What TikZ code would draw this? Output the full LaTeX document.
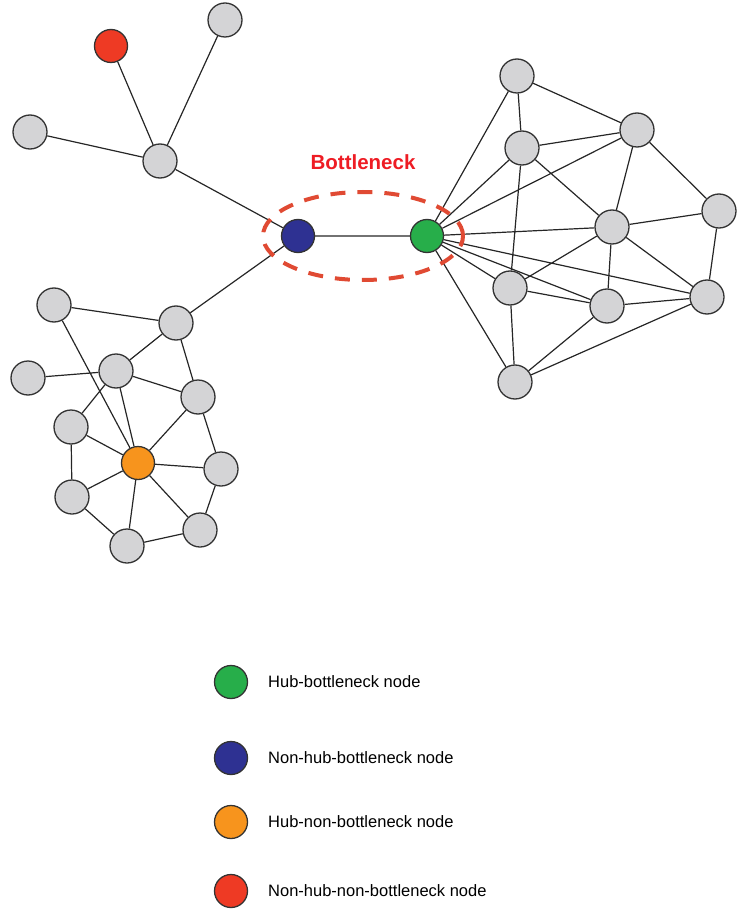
\documentclass[tikz,border=0pt]{standalone}
\usepackage{fontspec}
\setmainfont{Liberation Sans}
\usetikzlibrary{backgrounds,shapes.geometric}
\definecolor{ngray}{HTML}{D4D4D6}
\definecolor{nred}{HTML}{EE3A24}
\definecolor{nblue}{HTML}{2E3192}
\definecolor{ngreen}{HTML}{27AE4A}
\definecolor{norange}{HTML}{F7941D}
\definecolor{bneck}{HTML}{E04A33}
\definecolor{btext}{HTML}{EE1C24}
\tikzset{
  vtx/.style={circle,draw=black!80,line width=1.3pt,minimum size=34pt,inner sep=0pt,fill=ngray},
  cvtx/.style={vtx,minimum size=33pt},
  edge/.style={draw=black!85,line width=1.2pt},
  legtext/.style={anchor=west,font=\fontsize{16.5}{19}\selectfont,inner sep=0pt}
}
\begin{document}
\begin{tikzpicture}[x=1pt,y=-1pt]
\useasboundingbox (0,0) rectangle (750,917);
% top star
\node[cvtx,fill=nred] (red) at (111,46) {};
\node[vtx] (gtop) at (225,20) {};
\node[vtx] (gleft) at (30,132) {};
\node[vtx] (ghub) at (160,161) {};
\node[cvtx,fill=nblue] (blue) at (298,236) {};
\node[cvtx,fill=ngreen] (green) at (427,236) {};
% left cluster
\node[vtx] (A) at (54,305) {};
\node[vtx] (B) at (176,323) {};
\node[vtx] (C) at (28,378) {};
\node[vtx] (D) at (116,371) {};
\node[vtx] (E) at (198,397) {};
\node[vtx] (F) at (71,427) {};
\node[cvtx,fill=norange] (orange) at (138,463) {};
\node[vtx] (G) at (221,469) {};
\node[vtx] (H) at (72,497) {};
\node[vtx] (I) at (200,530) {};
\node[vtx] (J) at (127,546) {};
% right cluster
\node[vtx] (R1) at (517,76) {};
\node[vtx] (R2) at (522,148) {};
\node[vtx] (R3) at (637,130) {};
\node[vtx] (R4) at (612,227) {};
\node[vtx] (R5) at (719,211) {};
\node[vtx] (R6) at (510,288) {};
\node[vtx] (R7) at (607,306) {};
\node[vtx] (R8) at (707,297) {};
\node[vtx] (R9) at (515,382) {};
\begin{scope}[on background layer]
\draw[edge] (red)--(ghub) (gtop)--(ghub) (gleft)--(ghub) (ghub)--(blue) (blue)--(green) (blue)--(B);
\draw[edge] (A)--(B) (A)--(orange) (C)--(D) (B)--(D) (B)--(E) (D)--(E) (D)--(F) (D)--(orange)
  (E)--(orange) (E)--(G) (F)--(orange) (F)--(H) (H)--(orange) (H)--(J) (J)--(orange)
  (I)--(orange) (G)--(orange) (G)--(I) (I)--(J);
\draw[edge] (green)--(R1) (green)--(R2) (green)--(R3) (green)--(R4) (green)--(R6) (green)--(R7)
  (green)--(R8) (green)--(R9) (R1)--(R2) (R1)--(R3) (R2)--(R3) (R2)--(R4) (R2)--(R6)
  (R3)--(R4) (R3)--(R5) (R4)--(R5) (R4)--(R6) (R4)--(R7) (R4)--(R8) (R5)--(R8)
  (R6)--(R7) (R7)--(R8) (R6)--(R9) (R7)--(R9) (R8)--(R9);
\end{scope}
\node[draw=bneck,line width=4pt,dash pattern=on 15pt off 12pt,ellipse,minimum width=200pt,minimum height=88pt,inner sep=0pt] (ell) at (363,236) {};
\node[text=btext,font=\fontsize{20.5}{24}\selectfont\bfseries] (bt) at (363,162) {Bottleneck};
% legend
\node[cvtx,fill=ngreen] (l1) at (231,682) {};
\node[legtext] (t1) at (268,682) {Hub-bottleneck node};
\node[cvtx,fill=nblue] (l2) at (231,758) {};
\node[legtext] (t2) at (268,758) {Non-hub-bottleneck node};
\node[cvtx,fill=norange] (l3) at (231,822) {};
\node[legtext] (t3) at (268,822) {Hub-non-bottleneck node};
\node[cvtx,fill=nred] (l4) at (231,891) {};
\node[legtext] (t4) at (268,891) {Non-hub-non-bottleneck node};
\end{tikzpicture}
\end{document}
